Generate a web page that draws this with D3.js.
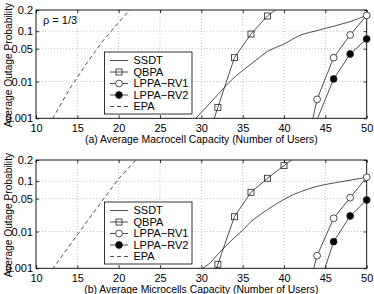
<!DOCTYPE html>
<html>
<head>
<meta charset="utf-8">
<script src="https://cdn.jsdelivr.net/npm/d3@7"></script>
<style>
  body { margin: 0; background: #fff; }
  svg { display: block; font-family: "Liberation Sans", Arial, sans-serif; }
</style>
</head>
<body>
<svg width="374" height="294"></svg>
<script>
// axis values
var xTicks = [10, 15, 20, 25, 30, 35, 40, 45, 50];
var yTicks = [0.001, 0.01, 0.05, 0.1, 0.2];
var yTickLabels = ["0.001", "0.01", "0.05", "0.1", "0.2"];
var seriesNames = ["SSDT", "QBPA", "LPPA\u2212RV1", "LPPA\u2212RV2", "EPA"];

// (a) macrocell
var macroSsdtUsers = [29, 30, 31, 32, 33, 34, 35, 36, 37, 38, 39, 40, 41, 42, 43, 44, 45, 46, 47, 48, 49, 50];
var macroSsdt = [0.0008, 0.0015, 0.0027, 0.0047, 0.008, 0.0127, 0.018, 0.0247, 0.0336, 0.0446, 0.0526,
                 0.0606, 0.0735, 0.087, 0.095, 0.102, 0.111, 0.119, 0.129, 0.139, 0.154, 0.171];
var macroQbpaUsers = [30, 32, 34, 36, 38, 40];
var macroQbpa = [0.00005, 0.0021, 0.0335, 0.090, 0.167, 0.24];
var macroRv1Users = [42, 44, 46, 48, 50];
var macroRv1 = [0.00001, 0.0035, 0.0335, 0.087, 0.17];
var macroRv2Users = [44, 46, 48, 50];
var macroRv2 = [0.00092, 0.0115, 0.0396, 0.0745];
var macroEpaUsers = [12, 14, 16, 18, 20, 22];
var macroEpa = [0.00097, 0.0062, 0.0239, 0.0668, 0.1357, 0.236];

// (b) microcells
var microSsdtUsers = [30, 31, 32, 33, 34, 35, 36, 37, 38, 39, 40, 41, 42, 43, 44, 45, 46, 47, 48, 49, 50];
var microSsdt = [0.00094, 0.0014, 0.00256, 0.0044, 0.0071, 0.0107, 0.017, 0.0233, 0.0307, 0.0392, 0.0485,
                 0.0582, 0.0668, 0.075, 0.0823, 0.0885, 0.0934, 0.0985, 0.1038, 0.1093, 0.115];
var microQbpaUsers = [30, 32, 34, 36, 38, 40, 42];
var microQbpa = [0.00003, 0.00132, 0.0217, 0.0653, 0.111, 0.169, 0.242];
var microRv1Users = [42, 44, 46, 48, 50];
var microRv1 = [0.00002, 0.00234, 0.0201, 0.0522, 0.115];
var microRv2Users = [44, 46, 48, 50];
var microRv2 = [0.00017, 0.0056, 0.0225, 0.0473];
var microEpaUsers = [12, 14, 16, 18, 20, 22, 24];
var microEpa = [0.00094, 0.00427, 0.0154, 0.0455, 0.1093, 0.195, 0.326];

// inverse normal cdf (Acklam) -- the y axis is a normal probability scale
function probit(p) {
  var a = [-39.69683028665376, 220.9460984245205, -275.9285104469687, 138.3577518672690, -30.66479806614716, 2.506628277459239],
      b = [-54.47609879822406, 161.5858368580409, -155.6989798598866, 66.80131188771972, -13.28068155288572],
      c = [-0.007784894002430293, -0.3223964580411365, -2.400758277161838, -2.549732539343734, 4.374664141464968, 2.938163982698783],
      d = [0.007784695709041462, 0.3224671290700398, 2.445134137142996, 3.754408661907416],
      q, r;
  if (p < 0.02425) {
    q = Math.sqrt(-2 * Math.log(p));
    return (((((c[0]*q+c[1])*q+c[2])*q+c[3])*q+c[4])*q+c[5]) / ((((d[0]*q+d[1])*q+d[2])*q+d[3])*q+1);
  }
  if (p > 1 - 0.02425) return -probit(1 - p);
  q = p - 0.5; r = q * q;
  return (((((a[0]*r+a[1])*r+a[2])*r+a[3])*r+a[4])*r+a[5])*q / (((((b[0]*r+b[1])*r+b[2])*r+b[3])*r+b[4])*r+1);
}

var svg = d3.select("svg"),
    left = 36, right = 366.7, plotH = 108.3;

var x = d3.scaleLinear().domain([10, 50]).range([left, right]);

function zip(xs, ys) {
  return xs.map(function(v, i) { return { x: v, y: ys[i] }; });
}

function drawPanel(id, top, series, title, note) {
  var bottom = top + plotH;
  var yLin = d3.scaleLinear().domain([probit(0.001), probit(0.2)]).range([bottom, top]);
  var y = function(p) { return yLin(probit(p)); };
  var g = svg.append("g");

  g.append("clipPath").attr("id", "clip" + id)
    .append("rect").attr("x", left).attr("y", top).attr("width", right - left).attr("height", plotH);

  // grid
  g.selectAll(".gx").data(xTicks.slice(1, -1)).enter().append("line")
      .attr("x1", x).attr("x2", x).attr("y1", top).attr("y2", bottom)
      .attr("stroke", "#aaa").attr("stroke-width", 0.7).attr("stroke-dasharray", "1,2");
  g.selectAll(".gy").data(yTicks.slice(1, -1)).enter().append("line")
      .attr("x1", left).attr("x2", right).attr("y1", y).attr("y2", y)
      .attr("stroke", "#aaa").attr("stroke-width", 0.7).attr("stroke-dasharray", "1,2");

  // axes
  g.append("g").attr("transform", "translate(0," + bottom + ")")
      .call(d3.axisBottom(x).tickValues(xTicks).tickSize(-3).tickPadding(5.5).tickFormat(d3.format("d")));
  g.append("g").attr("transform", "translate(0," + top + ")")
      .call(d3.axisTop(x).tickValues(xTicks).tickSize(-3).tickFormat(""));
  g.append("g").attr("transform", "translate(" + left + ",0)")
      .call(d3.axisLeft(yLin).tickValues(yTicks.map(probit)).tickSize(-3).tickPadding(3)
        .tickFormat(function(d, i) { return yTickLabels[i]; }));
  g.append("g").attr("transform", "translate(" + right + ",0)")
      .call(d3.axisRight(yLin).tickValues(yTicks.map(probit)).tickSize(-3).tickFormat(""));
  g.selectAll(".domain").remove();
  g.selectAll(".tick line").attr("stroke", "#000").attr("stroke-width", 0.8);
  g.selectAll(".tick text").attr("font-size", 11).attr("font-family", "Liberation Sans, Arial").attr("fill", "#000");

  g.append("rect").attr("x", left).attr("y", top).attr("width", right - left).attr("height", plotH)
    .attr("fill", "none").attr("stroke", "#000").attr("stroke-width", 0.9);

  var line = d3.line().x(function(d) { return x(d.x); }).y(function(d) { return y(d.y); });
  var plot = g.append("g").attr("clip-path", "url(#clip" + id + ")");

  series.forEach(function(s) {
    var pts = zip(s.users, s.values);
    plot.append("path").attr("d", line(pts)).attr("fill", "none")
      .attr("stroke", "#222").attr("stroke-width", 0.8)
      .attr("stroke-dasharray", s.dash ? "4,3" : null);
    var inside = pts.filter(function(d) { return d.y >= 0.001 && d.y <= 0.2; });
    drawMarkers(g, inside.map(function(d) { return [x(d.x), y(d.y)]; }), s.marker);
  });

  // legend
  var lx = 104.5, ly = top + 42;
  g.append("rect").attr("x", lx).attr("y", ly).attr("width", 87.5).attr("height", 62)
    .attr("fill", "#fff").attr("stroke", "#000").attr("stroke-width", 0.8);
  series.forEach(function(s, i) {
    var yy = ly + 8.5 + i * 11.5;
    g.append("line").attr("x1", lx + 5.5).attr("x2", lx + 23.5).attr("y1", yy).attr("y2", yy)
      .attr("stroke", "#222").attr("stroke-width", 0.8)
      .attr("stroke-dasharray", s.dash ? "4,3" : null);
    drawMarkers(g, [[lx + 14.5, yy]], s.marker);
    g.append("text").attr("x", lx + 29).attr("y", yy).attr("dy", "0.36em")
      .attr("font-size", 11).text(s.name);
  });

  g.append("text").attr("x", (left + right) / 2).attr("y", bottom + 21).attr("dy", "0.36em")
    .attr("text-anchor", "middle").attr("font-size", 10.4).text(title);
  g.append("text").attr("transform", "translate(8.5," + (top + plotH / 2 + 1) + ") rotate(-90)")
    .attr("text-anchor", "middle").attr("dy", "0.36em").attr("font-size", 10.2)
    .text("Average Outage Probability");
  if (note) {
    g.append("text").attr("x", 43).attr("y", top + 10.5).attr("dy", "0.36em")
      .attr("font-size", 11).text(note);
  }
}

function drawMarkers(g, pts, kind) {
  if (kind === "square") {
    g.selectAll(null).data(pts).enter().append("rect")
      .attr("x", function(d) { return d[0] - 3; }).attr("y", function(d) { return d[1] - 3; })
      .attr("width", 6).attr("height", 6)
      .attr("fill", "none").attr("stroke", "#222").attr("stroke-width", 0.8);
  } else if (kind === "open" || kind === "filled") {
    g.selectAll(null).data(pts).enter().append("circle")
      .attr("cx", function(d) { return d[0]; }).attr("cy", function(d) { return d[1]; })
      .attr("r", 3.4)
      .attr("fill", kind === "filled" ? "#000" : "#fff").attr("stroke", "#222").attr("stroke-width", 0.8);
  }
}

drawPanel("a", 10, [
  { name: seriesNames[0], users: macroSsdtUsers, values: macroSsdt },
  { name: seriesNames[1], users: macroQbpaUsers, values: macroQbpa, marker: "square" },
  { name: seriesNames[2], users: macroRv1Users, values: macroRv1, marker: "open" },
  { name: seriesNames[3], users: macroRv2Users, values: macroRv2, marker: "filled" },
  { name: seriesNames[4], users: macroEpaUsers, values: macroEpa, dash: true }
], "(a) Average Macrocell Capacity (Number of Users)", "\u03c1 = 1/3");

drawPanel("b", 160, [
  { name: seriesNames[0], users: microSsdtUsers, values: microSsdt },
  { name: seriesNames[1], users: microQbpaUsers, values: microQbpa, marker: "square" },
  { name: seriesNames[2], users: microRv1Users, values: microRv1, marker: "open" },
  { name: seriesNames[3], users: microRv2Users, values: microRv2, marker: "filled" },
  { name: seriesNames[4], users: microEpaUsers, values: microEpa, dash: true }
], "(b) Average Microcells Capacity (Number of Users)");
</script>
</body>
</html>
